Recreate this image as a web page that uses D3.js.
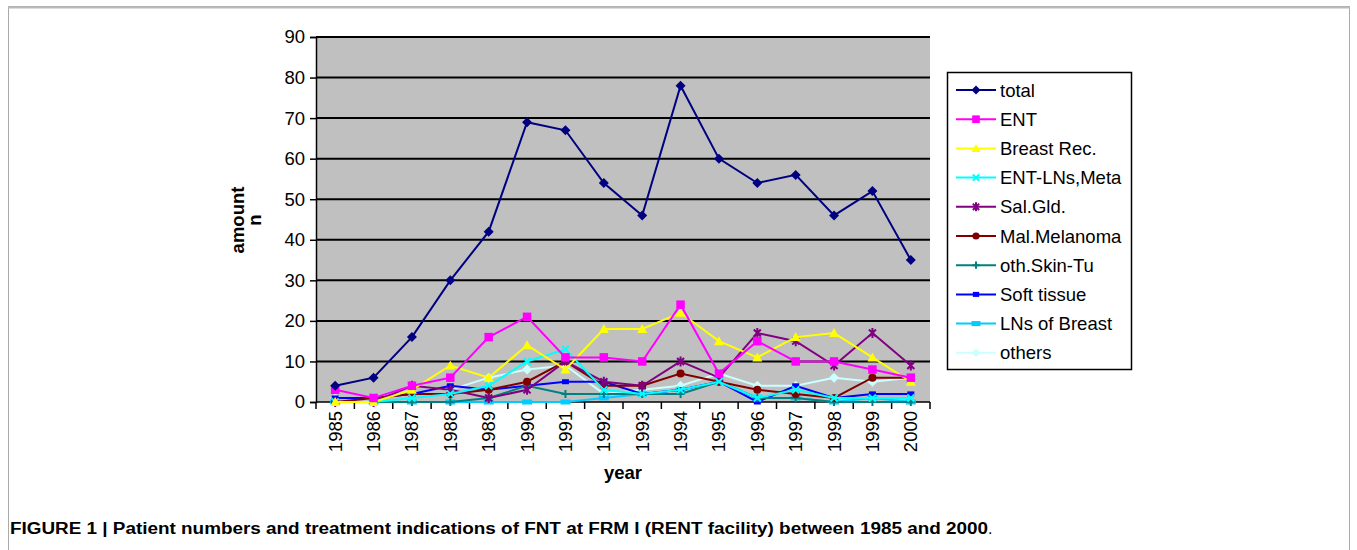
<!DOCTYPE html>
<html><head><meta charset="utf-8">
<script src="https://cdn.jsdelivr.net/npm/d3@7"></script>
<style>body{margin:0;background:#fff;} svg{display:block;}</style>
</head><body>
<svg id="c" width="1357" height="550"></svg>
<script>
const years = ["1985","1986","1987","1988","1989","1990","1991","1992","1993","1994","1995","1996","1997","1998","1999","2000"];
const yTicks = [0,10,20,30,40,50,60,70,80,90];
const total       = [4,6,16,30,42,69,67,54,46,78,60,54,56,46,52,35];
const ent         = [3,1,4,6,16,21,11,11,10,24,7,15,10,10,8,6];
const breastRec   = [0,0,3,9,6,14,8,18,18,22,15,11,16,17,11,5];
const entLNs      = [0,0,1,2,4,10,13,3,2,3,5,1,3,1,1,1];
const salGld      = [0,0,4,3,1,3,10,5,4,10,6,17,15,9,17,9];
const malMelanoma = [0,1,2,2,3,5,10,4,4,7,5,3,2,1,6,6];
const othSkin     = [0,0,0,0,1,4,2,2,2,2,5,1,1,0,0,0];
const softTissue  = [1,1,2,4,3,4,5,5,2,3,5,0,4,1,2,2];
const lnsBreast   = [0,0,0,0,0,0,0,1,2,3,5,1,1,0,1,0];
const others      = [1,1,4,3,6,8,9,2,3,4,7,4,4,6,5,6];

const series = [
  {name:"total", values:total, color:"#000080", marker:"diamond"},
  {name:"ENT", values:ent, color:"#ff00ff", marker:"square"},
  {name:"Breast Rec.", values:breastRec, color:"#ffff00", marker:"triangle"},
  {name:"ENT-LNs,Meta", values:entLNs, color:"#00ffff", marker:"x"},
  {name:"Sal.Gld.", values:salGld, color:"#800080", marker:"star"},
  {name:"Mal.Melanoma", values:malMelanoma, color:"#800000", marker:"circle"},
  {name:"oth.Skin-Tu", values:othSkin, color:"#008080", marker:"plus"},
  {name:"Soft tissue", values:softTissue, color:"#0000ff", marker:"dash"},
  {name:"LNs of Breast", values:lnsBreast, color:"#00ccff", marker:"longdash"},
  {name:"others", values:others, color:"#ccffff", marker:"diamond"}
];

const FONT = "Liberation Sans, Arial, sans-serif";
const FS = 18.5;
const svg = d3.select("#c");
// frame
svg.append("rect").attr("x",8.5).attr("y",6.5).attr("width",1341).attr("height",560)
  .attr("fill","none").attr("stroke","#aaa").attr("stroke-width",1);
svg.append("line").attr("x1",8).attr("x2",1350).attr("y1",7.5).attr("y2",7.5).attr("stroke","#bbb").attr("stroke-width",2);

const m = {l:316, r:930, t:37, b:402};
const x = d3.scaleBand().domain(years).range([m.l, m.r]);
const y = d3.scaleLinear().domain([0,90]).range([m.b, m.t]);

const g = svg.append("g");
g.append("rect").attr("x",m.l).attr("y",m.t).attr("width",m.r-m.l).attr("height",m.b-m.t).attr("fill","#c0c0c0");
g.selectAll("line.grid").data(yTicks.filter(d=>d>0)).join("line")
  .attr("x1",m.l).attr("x2",m.r).attr("y1",d=>y(d)).attr("y2",d=>y(d))
  .attr("stroke","#000").attr("stroke-width",2);

// y axis
const ya = g.append("g").attr("transform",`translate(${m.l},0)`)
  .call(d3.axisLeft(y).tickValues(yTicks).tickSize(6).tickPadding(5));
ya.select(".domain").attr("stroke","#000").attr("stroke-width",1.5);
ya.selectAll(".tick line").attr("stroke","#000").attr("stroke-width",1.5);
ya.selectAll("text").attr("font-family",FONT).attr("font-size",FS).attr("fill","#000");

// x axis
const xa = g.append("g").attr("transform",`translate(0,${m.b})`);
xa.append("line").attr("x1",m.l).attr("x2",m.r).attr("stroke","#000").attr("stroke-width",1.5);
const bounds = years.map(d=>x(d)).concat([m.r]);
xa.selectAll("line.tk").data(bounds).join("line").attr("class","tk")
  .attr("x1",d=>d).attr("x2",d=>d).attr("y1",0).attr("y2",7).attr("stroke","#000").attr("stroke-width",1.5);
xa.selectAll("text.lab").data(years).join("text").attr("class","lab")
  .attr("transform",d=>`translate(${x(d)+x.bandwidth()/2+6.5},9) rotate(-90)`)
  .attr("text-anchor","end")
  .attr("font-family",FONT).attr("font-size",FS).attr("fill","#000")
  .text(d=>d);

// axis titles
svg.append("text").attr("x",623).attr("y",479).attr("text-anchor","middle")
  .attr("font-family",FONT).attr("font-size",FS).attr("font-weight","bold").text("year");
const yt = svg.append("text").attr("transform","translate(244,220) rotate(-90)").attr("text-anchor","middle")
  .attr("font-family",FONT).attr("font-size",FS).attr("font-weight","bold");
yt.append("tspan").attr("x",0).attr("dy",0).text("amount");
yt.append("tspan").attr("x",0).attr("dy",17).text("n");

function drawMarker(sel, type, color, cx, cy, s){
  const gg = sel.append("g").attr("transform",`translate(${cx},${cy})`);
  switch(type){
    case "diamond": gg.append("path").attr("d",`M0,${-s}L${s},0L0,${s}L${-s},0Z`).attr("fill",color); break;
    case "square": gg.append("rect").attr("x",-s*0.85).attr("y",-s*0.85).attr("width",s*1.7).attr("height",s*1.7).attr("fill",color); break;
    case "triangle": gg.append("path").attr("d",`M0,${-s}L${s},${s*0.8}L${-s},${s*0.8}Z`).attr("fill",color); break;
    case "x": gg.append("path").attr("d",`M${-s*0.7},${-s*0.7}L${s*0.7},${s*0.7}M${-s*0.7},${s*0.7}L${s*0.7},${-s*0.7}`).attr("stroke",color).attr("stroke-width",2); break;
    case "star": gg.append("path").attr("d",`M${-s*0.7},${-s*0.7}L${s*0.7},${s*0.7}M${-s*0.7},${s*0.7}L${s*0.7},${-s*0.7}M0,${-s}L0,${s}`).attr("stroke",color).attr("stroke-width",2); break;
    case "circle": gg.append("circle").attr("r",s*0.8).attr("fill",color); break;
    case "plus": gg.append("path").attr("d",`M${-s*0.8},0L${s*0.8},0M0,${-s*0.8}L0,${s*0.8}`).attr("stroke",color).attr("stroke-width",2); break;
    case "dash": gg.append("rect").attr("x",-s*0.7).attr("y",-2.5).attr("width",s*1.4).attr("height",5).attr("fill",color); break;
    case "longdash": gg.append("rect").attr("x",-s).attr("y",-2.5).attr("width",s*2).attr("height",5).attr("fill",color); break;
  }
}

const line = d3.line().x((d,i)=>x(years[i])+x.bandwidth()/2).y(d=>y(d));
const plotG = svg.append("g");
series.slice().reverse().forEach(s=>{
  plotG.append("path").attr("d",line(s.values)).attr("fill","none").attr("stroke",s.color).attr("stroke-width",2);
  s.values.forEach((v,i)=>drawMarker(plotG, s.marker, s.color, x(years[i])+x.bandwidth()/2, y(v), 5));
});

// legend
const lg = svg.append("g");
lg.append("rect").attr("x",947.5).attr("y",72.5).attr("width",184).attr("height",297).attr("fill","#fff").attr("stroke","#000").attr("stroke-width",1.5);
series.forEach((s,i)=>{
  const ly = 90 + i*29.2;
  lg.append("line").attr("x1",956).attr("x2",996).attr("y1",ly).attr("y2",ly).attr("stroke",s.color).attr("stroke-width",2);
  drawMarker(lg, s.marker, s.color, 976, ly, 4.5);
  lg.append("text").attr("x",1000).attr("y",ly+6.5).attr("font-family",FONT).attr("font-size",FS).attr("fill","#000").text(s.name);
});

// caption
const cap = svg.append("text").attr("x",10).attr("y",534).attr("font-family",FONT).attr("font-size",16).attr("fill","#000");
cap.append("tspan").attr("font-weight","bold")
  .attr("textLength",978).attr("lengthAdjust","spacingAndGlyphs")
  .text("FIGURE 1 | Patient numbers and treatment indications of FNT at FRM I (RENT facility) between 1985 and 2000");
cap.append("tspan").text(".");
</script>
</body></html>
